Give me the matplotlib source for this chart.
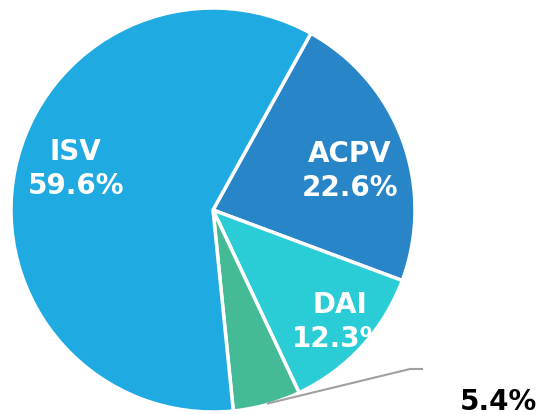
import numpy as np
import matplotlib
matplotlib.use("Agg")
import matplotlib.pyplot as plt

categories = ["ACPV", "DAI", "Other", "ISV"]
values = [22.6, 12.3, 5.4, 59.6]
colors = ["#2886c8", "#2acdd6", "#45ba96", "#1faae2"]
show_inside = [True, True, False, True]

W, H = 539, 415
fig = plt.figure(figsize=(W / 100, H / 100), dpi=100)
ax = fig.add_axes([0, 0, 1, 1])

cx, cy, r = 213, 205, 202
wedges, _ = ax.pie(values, colors=colors, startangle=61, counterclock=False,
                   center=(cx, cy), radius=r, frame=True,
                   wedgeprops=dict(edgecolor="white", linewidth=2.5))
ax.set_xlim(0, W)
ax.set_ylim(0, H)
ax.axis("off")

dist = [0.705, 0.84, 0.0, 0.71]
angle_adj = [-4.4, 1.1, 0, -5]
font = dict(family="DejaVu Sans", fontweight="bold", fontsize=20)
for w, cat, v, show, d, adj in zip(wedges, categories, values, show_inside, dist, angle_adj):
    mid = np.deg2rad((w.theta1 + w.theta2) / 2 + adj)
    if show:
        x = cx + d * r * np.cos(mid)
        y = cy + d * r * np.sin(mid)
        ax.text(x, y + 17, cat, color="white", ha="center", va="center", **font)
        ax.text(x, y - 17, f"{v}%", color="white", ha="center", va="center", **font)
    else:
        x0 = cx + r * np.cos(mid)
        y0 = cy + r * np.sin(mid)
        ax.plot([x0, 410, 423], [y0 + 1, H - 369, H - 369], color="#a0a0a0", lw=1.5,
                solid_capstyle="butt")
        ax.text(W - 2, H - 402, f"{v}%", color="black", ha="right", va="center", **font)

fig.savefig("out.png", dpi=100)
